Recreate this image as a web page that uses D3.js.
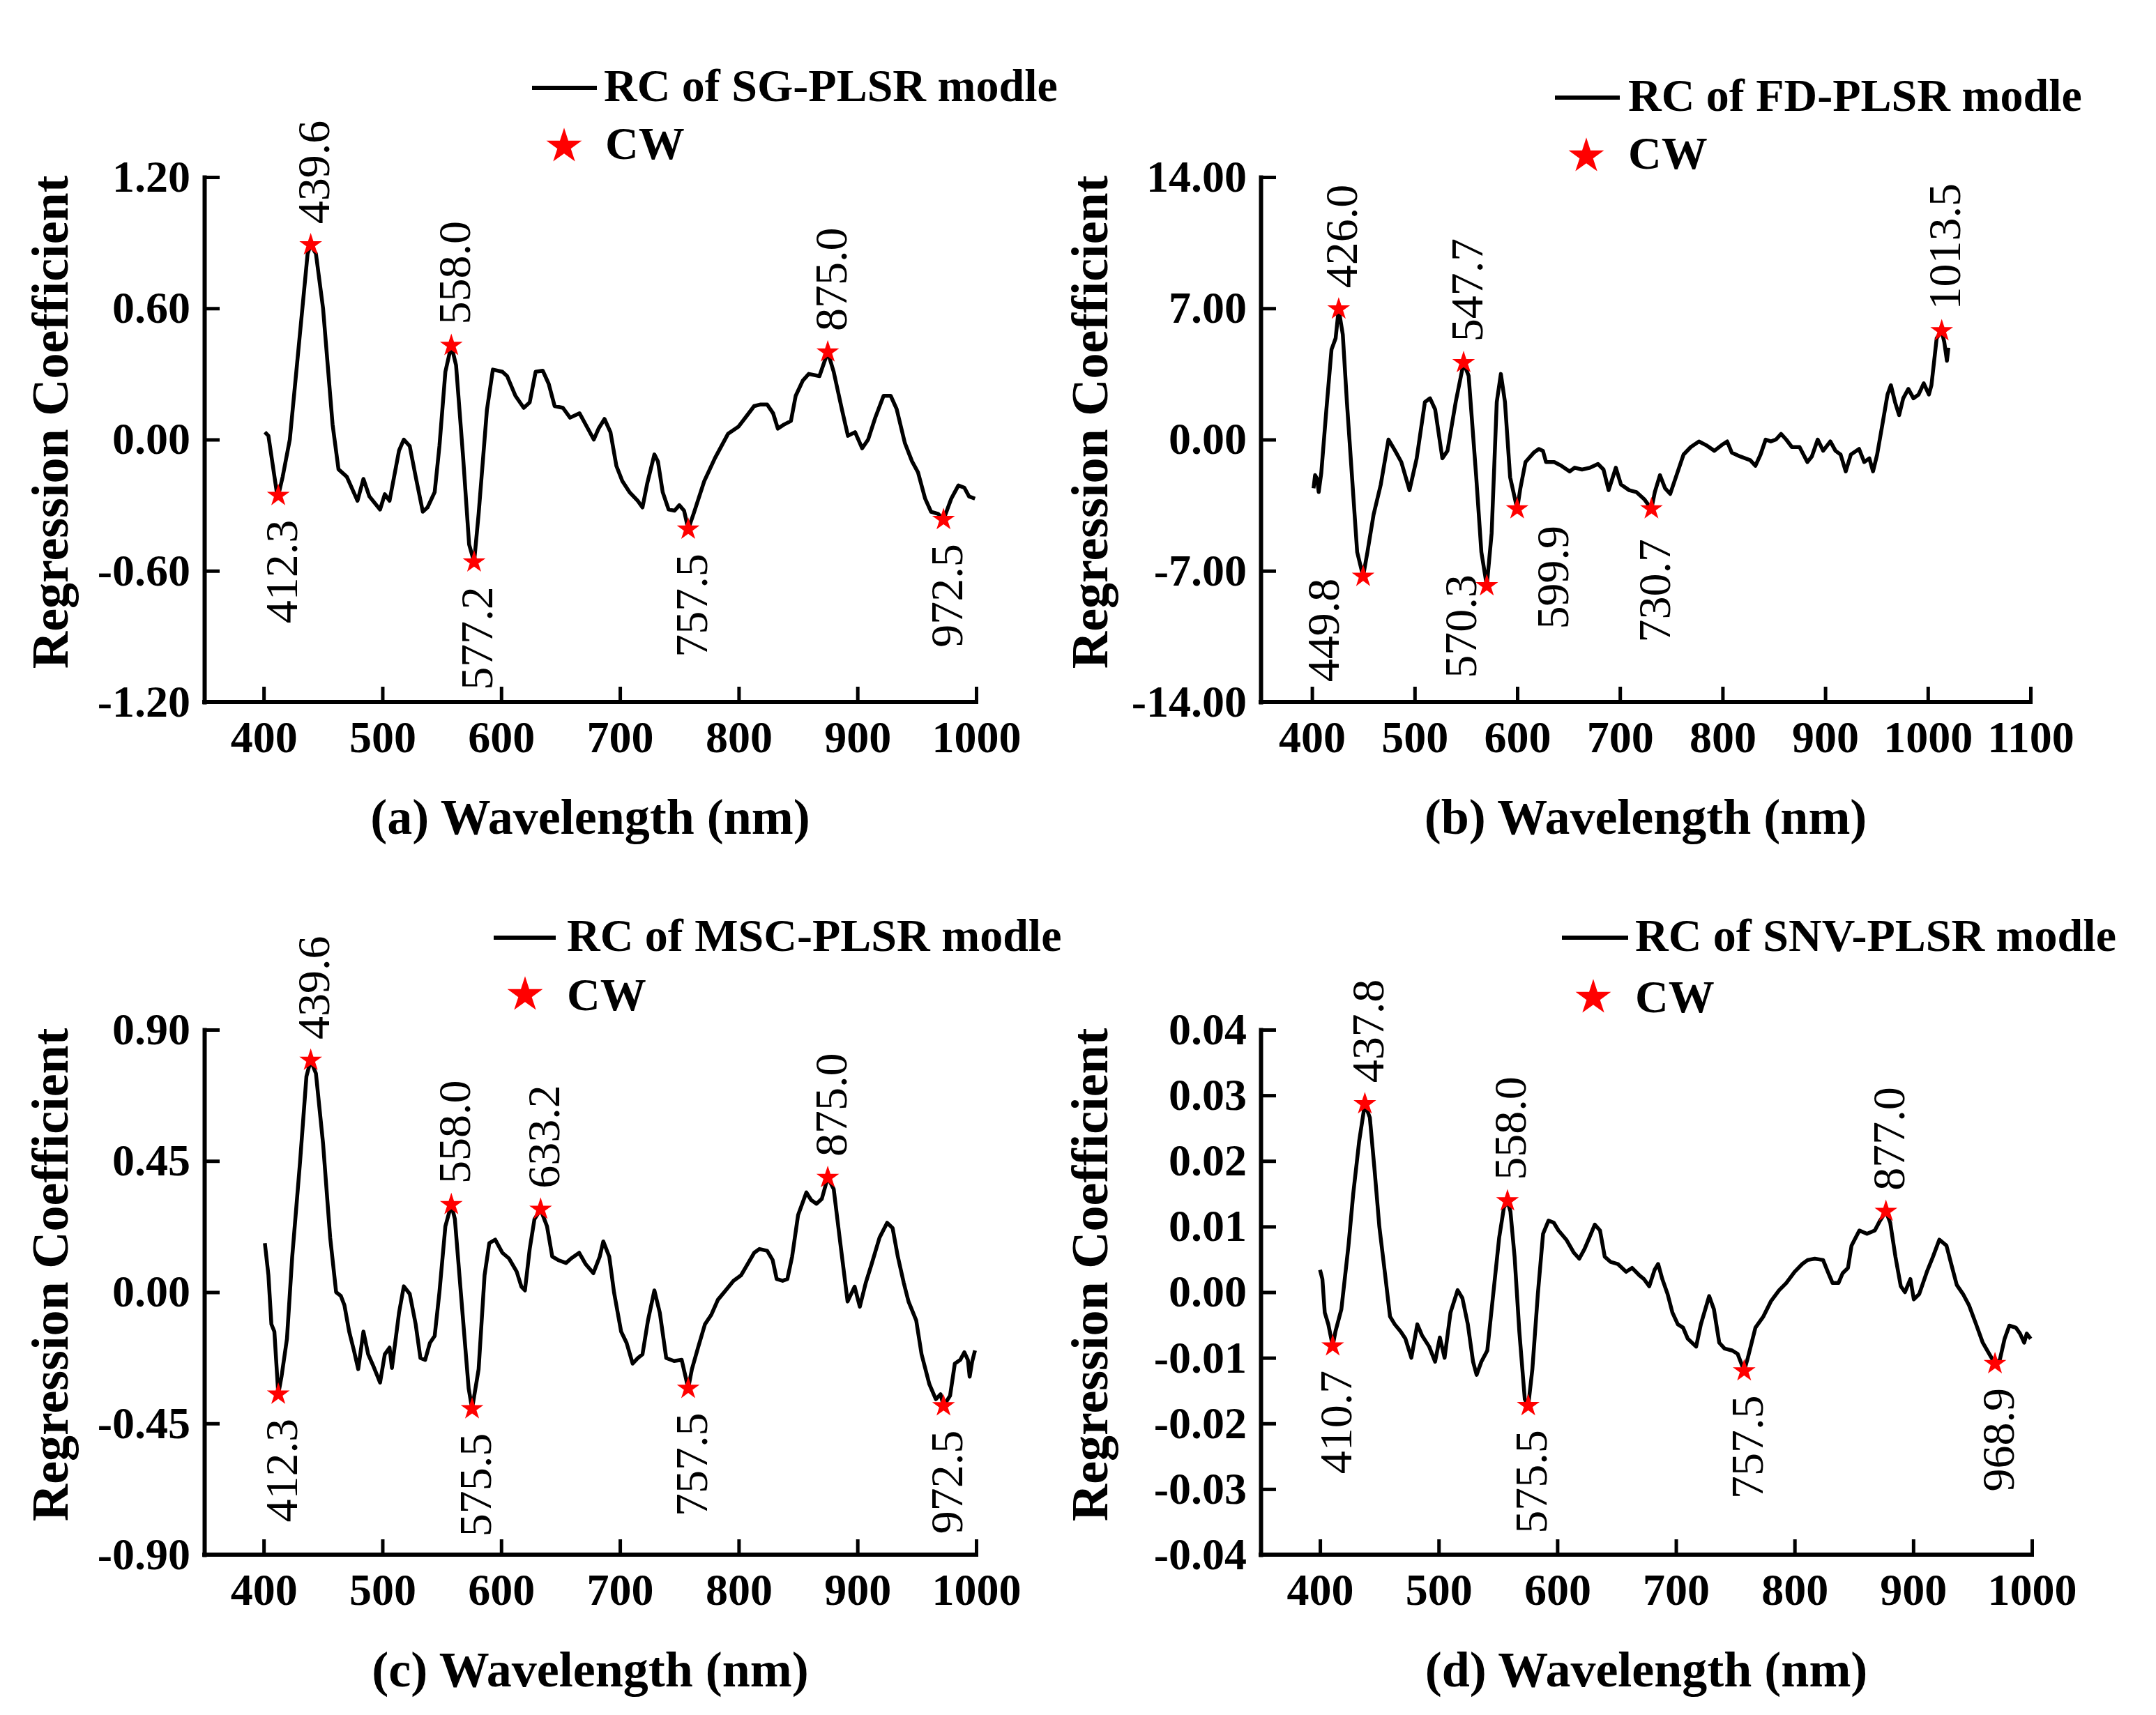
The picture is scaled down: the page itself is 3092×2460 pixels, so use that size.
<!DOCTYPE html>
<html>
<head>
<meta charset="utf-8">
<script src="https://cdn.jsdelivr.net/npm/d3@7"></script>
<style>
html,body{margin:0;padding:0;background:#fff;}
svg{display:block;}
</style>
</head>
<body>
<svg id="chart" width="3092" height="2460"></svg>
<script>
// ---------- DATA ----------
// (a) SG-PLSR
const sgWavelength = [401,404,411,412.3,416,422,431,437,439.6,444,450,458,463,470,479,484,489,498,502,506,514,518,523,528,534,538,544,548,553,558.0,562,568,573,577.2,581,588,593,601,605,612,619,624,629,635,640,645,652,658,666,671,678,682,687,692,697,702,708,715,719,723,729,732,736,741,746,750,754,757.5,762,771,780,791,800,807,813,818,824,829,833,838,844,848,854,859,868,875.0,880,887,892,898,904,909,915,922,928,933,940,946,951,957,962,968,972.5,979,985,990,994,999];
const sgCoef = [0.034,0.017,-0.24,-0.256,-0.17,0.0,0.51,0.85,0.89,0.85,0.60,0.07,-0.136,-0.17,-0.28,-0.18,-0.26,-0.32,-0.25,-0.28,-0.05,0.0,-0.03,-0.17,-0.33,-0.31,-0.24,-0.03,0.31,0.43,0.34,-0.085,-0.48,-0.56,-0.34,0.136,0.32,0.31,0.29,0.20,0.145,0.17,0.31,0.315,0.255,0.153,0.145,0.10,0.12,0.07,0.0,0.05,0.094,0.034,-0.12,-0.19,-0.24,-0.28,-0.31,-0.20,-0.068,-0.10,-0.24,-0.32,-0.325,-0.30,-0.325,-0.41,-0.34,-0.19,-0.085,0.026,0.06,0.11,0.153,0.16,0.16,0.12,0.05,0.068,0.085,0.20,0.27,0.30,0.29,0.40,0.31,0.136,0.017,0.034,-0.04,0.0,0.10,0.20,0.20,0.14,-0.017,-0.10,-0.15,-0.27,-0.33,-0.34,-0.366,-0.27,-0.21,-0.22,-0.26,-0.27];
const sgCW = [412.3,439.6,558.0,577.2,757.5,875.0,972.5];

// (b) FD-PLSR
const fdWavelength = [401.5,403,405,406.5,409,414,419,423,426.0,430,434,439,444,449.8,454,460,467,474.5,481,487,495,502,510,515,520,527,532,540,547.7,552.6,560,565,570.3,575,580,584,588,593,599.9,603,608,616,621,625,628,636,643,651,656,663,671,678.6,684,689,696,701,709,716,724,730.7,734,739,744,749,757,762,769,777,784,792,799,804.5,809,817,827,832,837,842,847,852,857,862,867.5,875,882.6,887,892.7,898,905,910,915,920,925,933,938,943,946.6,950.6,955.7,960.7,964,968,972,976,981,986,991,996,1001,1003.5,1008.6,1013.5,1016,1018.6,1020];
const fdCoef = [-2.6,-1.9,-2.1,-2.8,-1.8,1.6,4.8,5.4,6.96,5.6,2.0,-2.0,-6.0,-7.3,-6.0,-4.0,-2.4,0.0,-0.6,-1.2,-2.7,-1.0,2.0,2.2,1.6,-1.0,-0.6,2.0,4.1,3.4,-2.0,-6.0,-7.8,-5.0,2.0,3.5,2.0,-2.0,-3.7,-2.6,-1.2,-0.7,-0.5,-0.6,-1.2,-1.2,-1.4,-1.7,-1.5,-1.6,-1.5,-1.3,-1.6,-2.7,-1.5,-2.4,-2.7,-2.8,-3.2,-3.7,-2.8,-1.9,-2.6,-2.9,-1.6,-0.8,-0.4,-0.1,-0.3,-0.6,-0.3,-0.1,-0.7,-0.9,-1.1,-1.4,-0.8,0.0,-0.1,0.0,0.3,0.0,-0.4,-0.4,-1.2,-0.9,0.0,-0.6,-0.1,-0.6,-0.8,-1.7,-0.8,-0.5,-1.2,-1.0,-1.7,-0.8,0.8,2.4,2.9,2.0,1.3,2.2,2.7,2.2,2.4,3.0,2.4,2.9,5.4,5.8,5.2,4.2,4.9];
const fdCW = [426.0,449.8,547.7,570.3,599.9,730.7,1013.5];

// (c) MSC-PLSR
const mscWavelength = [401,404,406.5,409,412.3,415,419.6,424,430.6,436,439.6,444,450,456,461,465,468,472,476,479.6,484,488,492,496,498,502,506,508,514,518,523,528,532,536,540,544,548,553,558.0,561,566,572.6,575.5,581,586,590,595,601,606.5,613,617,620,624,628,633.2,638.6,643,648,654.6,659,665.7,671,677.6,683,686,691,695,701,705.6,710.7,715,719,723.6,729,733.6,739,745.6,752,757.5,760.6,766,771.6,777,782.5,789,795.6,802,806.6,813,817.5,824,828.6,832,837,841,845,850,857,861,865.5,870,875.0,880,885,891.7,897.6,902,907,912,918.6,925,929.6,934,939,943,949.5,954,960.6,966,970,972.5,978,982,986.6,990,993,994.5,996.6,999];
const mscCoef = [0.168,0.058,-0.11,-0.135,-0.35,-0.29,-0.16,0.12,0.445,0.74,0.795,0.75,0.51,0.187,0.0,-0.013,-0.045,-0.135,-0.20,-0.264,-0.135,-0.213,-0.25,-0.29,-0.31,-0.213,-0.19,-0.26,-0.07,0.02,-0.006,-0.11,-0.226,-0.232,-0.174,-0.15,0.0,0.226,0.30,0.251,0.0,-0.33,-0.40,-0.264,0.058,0.168,0.18,0.135,0.116,0.071,0.019,0.006,0.148,0.25,0.284,0.226,0.122,0.11,0.10,0.116,0.135,0.097,0.065,0.122,0.174,0.122,0.0,-0.135,-0.174,-0.245,-0.226,-0.213,-0.097,0.006,-0.071,-0.226,-0.236,-0.232,-0.33,-0.264,-0.187,-0.11,-0.077,-0.026,0.006,0.039,0.058,0.09,0.135,0.148,0.142,0.11,0.045,0.039,0.045,0.122,0.264,0.342,0.316,0.303,0.32,0.393,0.354,0.187,-0.032,0.019,-0.05,0.032,0.097,0.187,0.238,0.22,0.122,0.032,-0.032,-0.097,-0.213,-0.316,-0.367,-0.35,-0.39,-0.355,-0.245,-0.232,-0.206,-0.232,-0.29,-0.238,-0.2];
const mscCW = [412.3,439.6,558.0,575.5,633.2,757.5,875.0,972.5];

// (d) SNV-PLSR
const snvWavelength = [400,402,404,407,410.7,413,418,424,428,433,437.8,442,446,450,454.6,459,463,468,472,477,482,486,492,497,501,505,510,516,520,524.6,529,532,536,541,546,551,555,558.0,560.5,564,568,572.6,575.5,579,583.6,588,592.6,597,601,607.6,614,618.5,623,627,631.6,636,640,645,651,658,663,669,673,677.5,682,685,688.5,693,697,701.6,706,710,717,721,728,732,736.5,741,747.5,752,757.5,760.6,767,773.7,780,787,793,800,806.5,811,817,824,828,832,837,840.5,845,848,854.6,861,867.6,872,877.0,880.6,885,889.5,893,897.6,900.5,905,911.5,916.6,922,928,932,936.7,942,947,953,958.6,964,968.9,973,977,981,986.5,990,993.5,995.7,999];
const snvCoef = [0.0034,0.002,-0.0031,-0.0049,-0.0082,-0.006,-0.0026,0.0071,0.015,0.023,0.0287,0.0266,0.0186,0.01,0.0031,-0.0037,-0.0049,-0.006,-0.0071,-0.01,-0.0049,-0.0066,-0.0083,-0.0106,-0.0069,-0.01,-0.0031,0.0003,-0.0009,-0.0049,-0.0106,-0.0126,-0.0106,-0.0089,-0.0003,0.0083,0.0129,0.0139,0.0123,0.0054,-0.006,-0.0163,-0.0173,-0.0117,-0.0003,0.0089,0.0109,0.0106,0.0094,0.008,0.006,0.0051,0.0066,0.0083,0.0103,0.0094,0.0054,0.0046,0.0043,0.0031,0.0037,0.0026,0.002,0.0009,0.0034,0.0043,0.002,-0.0003,-0.0031,-0.0049,-0.0054,-0.0071,-0.0083,-0.0049,-0.0006,-0.0026,-0.0077,-0.0086,-0.0089,-0.0094,-0.012,-0.01,-0.0054,-0.0037,-0.0014,0.0003,0.0014,0.0031,0.0043,0.0049,0.0051,0.0049,0.0031,0.0014,0.0014,0.0029,0.0037,0.0071,0.0094,0.0089,0.0094,0.0109,0.0123,0.0106,0.0054,0.0009,0.0,0.002,-0.0011,-0.0003,0.0031,0.0054,0.008,0.0071,0.0043,0.0011,-0.0003,-0.002,-0.0049,-0.0077,-0.0094,-0.0109,-0.0103,-0.0071,-0.0051,-0.0054,-0.0063,-0.0077,-0.0063,-0.0071];
const snvCW = [410.7,437.8,558.0,575.5,757.5,877.0,968.9];

// tick labels
const xTicks10 = [400,500,600,700,800,900,1000];
const xTicks11 = [400,500,600,700,800,900,1000,1100];
const sgYTicks = [-1.2,-0.6,0,0.6,1.2];
const fdYTicks = [-14,-7,0,7,14];
const mscYTicks = [-0.9,-0.45,0,0.45,0.9];
const snvYTicks = [-0.04,-0.03,-0.02,-0.01,0,0.01,0.02,0.03,0.04];

// legend / title texts
const legendNames = ["RC of SG-PLSR modle","RC of FD-PLSR modle","RC of MSC-PLSR modle","RC of SNV-PLSR modle"];
const xTitles = ["(a) Wavelength (nm)","(b) Wavelength (nm)","(c) Wavelength (nm)","(d) Wavelength (nm)"];
const yTitle = "Regression Coefficient";
const cwName = "CW";

// ---------- LAYOUT ----------
const SERIF = "'Liberation Serif','Times New Roman',Times,serif";
const layout = [
  {left:293, right:1400, top:254, bottom:1007, xDomain:[350,1000], yTitleX:97,
   legLine:[763,856,126], legText:[866,145], legStar:[809,210], cwText:[868,228], nudge:{}},
  {left:1808, right:2912, top:254, bottom:1007, xDomain:[350,1100], yTitleX:1588,
   legLine:[2230,2323,140], legText:[2335,159], legStar:[2275,224], cwText:[2335,242],
   nudge:{"449.8":[-61,-32],"570.3":[-42,-51],"599.9":[47,-11],"730.7":[0,8]}},
  {left:293, right:1400, top:1477, bottom:2230, xDomain:[350,1000], yTitleX:97,
   legLine:[708,797,1345], legText:[813,1364], legStar:[753,1427], cwText:[813,1449], nudge:{}},
  {left:1808, right:2914, top:1477, bottom:2230, xDomain:[350,1000], yTitleX:1588,
   legLine:[2240,2335,1345], legText:[2345,1364], legStar:[2285,1431], cwText:[2345,1452], nudge:{}}
];

const panelData = [
  {wl:sgWavelength, v:sgCoef, cw:sgCW, xTicks:xTicks10, yTicks:sgYTicks},
  {wl:fdWavelength, v:fdCoef, cw:fdCW, xTicks:xTicks11, yTicks:fdYTicks},
  {wl:mscWavelength, v:mscCoef, cw:mscCW, xTicks:xTicks10, yTicks:mscYTicks},
  {wl:snvWavelength, v:snvCoef, cw:snvCW, xTicks:xTicks10, yTicks:snvYTicks}
];

const svg = d3.select("#chart");
svg.append("rect").attr("width",3092).attr("height",2460).attr("fill","#fff");

panelData.forEach((pd, i) => {
  const L = layout[i];
  const yExt = d3.extent(pd.yTicks);
  const x = d3.scaleLinear().domain(L.xDomain).range([L.left, L.right]);
  const y = d3.scaleLinear().domain(yExt).range([L.bottom, L.top]);
  const g = svg.append("g");
  const pts = pd.wl.map((w, k) => [w, pd.v[k]]);

  // axes
  const xAxis = d3.axisBottom(x).tickValues(pd.xTicks).tickSize(-22).tickSizeOuter(0)
    .tickPadding(27).tickFormat(d => String(d));
  const yAxis = d3.axisLeft(y).tickValues(pd.yTicks).tickSize(-22).tickSizeOuter(0)
    .tickPadding(20).tickFormat(d => d.toFixed(2));
  const gx = g.append("g").attr("transform", `translate(0,${L.bottom})`).call(xAxis);
  const gy = g.append("g").attr("transform", `translate(${L.left},0)`).call(yAxis);
  [gx, gy].forEach(ax => {
    ax.attr("font-family", SERIF).attr("font-size", 64).attr("font-weight", "bold");
    ax.select(".domain").attr("stroke", "#000").attr("stroke-width", 6).attr("stroke-linecap", "square");
    ax.selectAll(".tick line").attr("stroke", "#000").attr("stroke-width", 5);
    ax.selectAll(".tick text").attr("fill", "#000");
  });
  gx.select(".domain").attr("d", `M${L.left},0H${L.right}`);

  // line
  g.append("path").datum(pts)
    .attr("d", d3.line().x(d => x(d[0])).y(d => y(d[1])))
    .attr("fill", "none").attr("stroke", "#000").attr("stroke-width", 5.5)
    .attr("stroke-linejoin", "round");

  // CW stars and labels
  const cwPts = pd.cw.map(w => {
    const k = pd.wl.indexOf(w);
    return [w, pd.v[k]];
  });
  const star = d3.symbol(d3.symbolStar, 330);
  g.selectAll(".cw").data(cwPts).join("path")
    .attr("d", star)
    .attr("transform", d => `translate(${x(d[0])},${y(d[1])})`)
    .attr("fill", "#ff0000");
  g.selectAll(".cwl").data(cwPts).join("text")
    .attr("transform", d => {
      const n = L.nudge[d[0].toFixed(1)] || [0, 0];
      const up = d[1] > 0;
      const px = x(d[0]) + 4 + n[0];
      const py = y(d[1]) + (up ? -30 : 35) + n[1];
      return `translate(${px},${py}) rotate(-90)`;
    })
    .attr("text-anchor", d => d[1] > 0 ? "start" : "end")
    .attr("dominant-baseline", "central")
    .attr("font-family", SERIF).attr("font-size", 66).attr("fill", "#000")
    .text(d => d[0].toFixed(1));

  // axis titles
  g.append("text")
    .attr("x", (L.left + L.right) / 2).attr("y", L.bottom + 189)
    .attr("text-anchor", "middle")
    .attr("font-family", SERIF).attr("font-size", 72).attr("font-weight", "bold")
    .text(xTitles[i]);
  g.append("text")
    .attr("transform", `translate(${L.yTitleX},${(L.top + L.bottom) / 2 - 25}) rotate(-90)`)
    .attr("text-anchor", "middle")
    .attr("font-family", SERIF).attr("font-size", 74).attr("font-weight", "bold")
    .text(yTitle);

  // legend
  g.append("line")
    .attr("x1", L.legLine[0]).attr("x2", L.legLine[1])
    .attr("y1", L.legLine[2]).attr("y2", L.legLine[2])
    .attr("stroke", "#000").attr("stroke-width", 6);
  g.append("text").attr("x", L.legText[0]).attr("y", L.legText[1])
    .attr("font-family", SERIF).attr("font-size", 66).attr("font-weight", "bold")
    .text(legendNames[i]);
  g.append("path").attr("d", d3.symbol(d3.symbolStar, 800)())
    .attr("transform", `translate(${L.legStar[0]},${L.legStar[1]})`)
    .attr("fill", "#ff0000");
  g.append("text").attr("x", L.cwText[0]).attr("y", L.cwText[1])
    .attr("font-family", SERIF).attr("font-size", 66).attr("font-weight", "bold")
    .text(cwName);
});
</script>
</body>
</html>
